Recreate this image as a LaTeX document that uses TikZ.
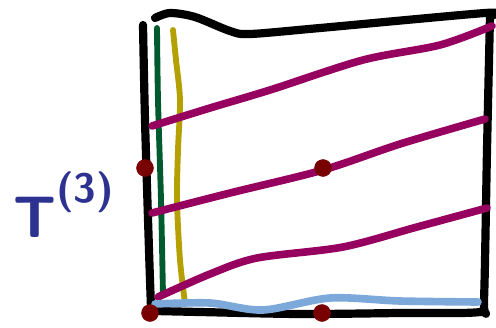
\documentclass[tikz,border=0pt]{standalone}
\usetikzlibrary{calc}
\definecolor{inkmag}{RGB}{150,0,95}
\definecolor{inkgreen}{RGB}{0,90,45}
\definecolor{inkyellow}{RGB}{180,160,0}
\definecolor{inkblue}{RGB}{125,168,218}
\definecolor{inkred}{RGB}{120,0,0}
\definecolor{inkT}{RGB}{45,50,145}
\begin{document}
\begin{tikzpicture}[x=0.03cm,y=-0.03cm,line cap=round,line join=round,
  frame/.style={draw=black,line width=7pt},
  sheet/.style={draw=inkmag,line width=6.5pt},
  dot/.style={fill=inkred,draw=inkred}]
\useasboundingbox (0,0) rectangle (496,327);
% frame
\draw[frame] plot[smooth,tension=0.5] coordinates {(143,25) (145,120) (149,250) (151,308)};
\draw[frame] plot[smooth,tension=0.5] coordinates {(155,18) (170,13) (195,17) (230,31) (250,34) (320,28) (485,13) (490,16)};
\draw[frame] plot[smooth,tension=0.5] coordinates {(490,16) (487,150) (484,300) (480,312) (400,313) (300,314) (200,312) (155,311)};
% vertical lines
\draw[inkgreen,line width=5pt] plot[smooth] coordinates {(157,28) (158,100) (161,200) (163,295)};
\draw[inkyellow,line width=5pt] plot[smooth] coordinates {(173,30) (176,60) (180,100) (178,150) (177,200) (180,260) (185,303)};
% magenta lines
\draw[sheet] plot[smooth] coordinates {(152,126) (210,108) (270,90) (363,60) (440,45) (492,26)};
\draw[sheet] plot[smooth] coordinates {(152,213) (230,193) (323,170) (400,144) (485,119)};
\draw[sheet] plot[smooth] coordinates {(158,297) (210,274) (257,258) (343,247) (417,227) (487,208)};
% bottom line
\draw[inkblue,line width=6.5pt] plot[smooth] coordinates {(155,304) (210,303) (263,310) (330,298) (400,301) (478,302)};
% points
\foreach \px/\py [count=\i] in {145/168,323/168,150/313,322/313}
  \filldraw[dot] (\px,\py) circle (8.5) coordinate (p\i);
% label
\node[inkT,anchor=base west,inner sep=0pt,scale=5,font=\sffamily\bfseries] (tlab) at (12,237)
  {T\raisebox{0.5ex}{\textsuperscript{(3)}}};
\end{tikzpicture}
\end{document}
